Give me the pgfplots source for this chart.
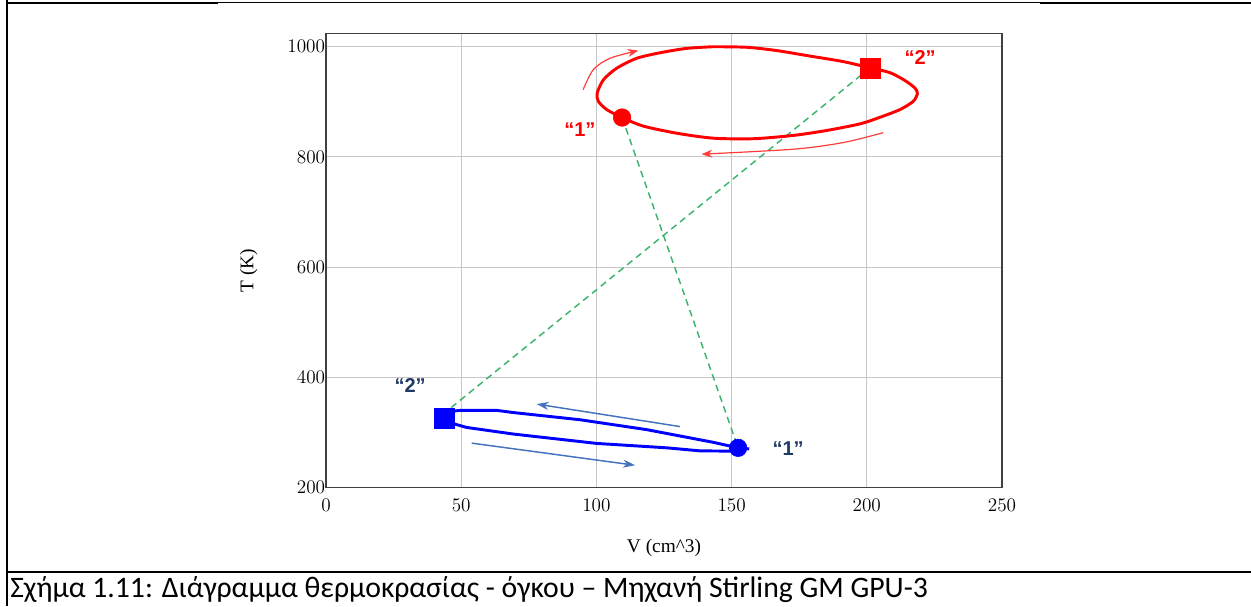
\documentclass[border=0pt]{standalone}
\usepackage{fontspec}
\setmainfont{Liberation Serif}
\newfontfamily\capfont{Carlito}
\newfontfamily\lblfont{Liberation Sans}
\usepackage{pgfplots}
\pgfplotsset{compat=1.18}
\usetikzlibrary{arrows.meta}

\definecolor{loopred}{RGB}{255,0,0}
\definecolor{loopblue}{RGB}{0,0,255}
\definecolor{linkgreen}{RGB}{60,180,110}
\definecolor{arrowblue}{RGB}{68,114,190}
\definecolor{arrowred}{RGB}{255,60,60}
\definecolor{navylabel}{RGB}{31,56,100}

% one screen pixel
\newcommand{\px}{0.75pt}

\begin{document}
\begin{tikzpicture}
\useasboundingbox (0,0) rectangle (1251*\px,606*\px);

% table-cell frame and caption
\draw[line width=1.2pt] (7*\px,606*\px) -- (7*\px,0);
\draw[line width=1.6pt] (6.4*\px,603*\px) -- (218*\px,603*\px);
\draw[line width=0.8pt] (218*\px,603.4*\px) -- (1040*\px,603.4*\px);
\draw[line width=1.6pt] (1040*\px,603*\px) -- (1251*\px,603*\px);
\draw[line width=1.3pt] (7*\px,34*\px) -- (1251*\px,34*\px);
\node[anchor=base west, inner sep=0pt, font=\capfont\fontsize{22.3}{25}\selectfont]
  at (10*\px,9*\px) {Σχήμα 1.11: Διάγραμμα θερμοκρασίας - όγκου – Μηχανή Stirling GM GPU-3};

\begin{axis}[
  at={(326*\px,118.5*\px)}, anchor=south west,
  scale only axis, width=507pt, height=340.5pt,
  xmin=0, xmax=250, ymin=200, ymax=1024,
  xtick={0,50,...,250}, ytick={200,400,...,1000},
  /pgf/number format/1000 sep={},
  grid=major,
  grid style={draw=black!22, line width=0.8pt},
  axis line style={draw=black!75, line width=1.1pt},
  major tick length=0pt,
  tick label style={font=\fontsize{14.5}{16}\selectfont},
  yticklabel style={inner sep=0.5pt},
  xticklabel style={yshift=-5pt},
  xlabel={V (cm\textasciicircum 3)},
  ylabel={T (K)},
  label style={font=\fontsize{14.5}{16}\selectfont},
  xlabel style={at={(rel axis cs:0.5,0)}, anchor=center, yshift=-45.5pt},
  ylabel style={at={(rel axis cs:0,0.478)}, anchor=center, yshift=58pt},
  clip=false,
]

% links between the two states
\addplot[linkgreen, line width=1.1pt, dash pattern=on 5pt off 3.5pt]
  coordinates {(201.2,961.6) (44.5,338)};
\addplot[linkgreen, line width=1.1pt, dash pattern=on 5pt off 3.5pt]
  coordinates {(109.5,871.5) (152.4,272)};

% expansion space loop
\addplot[loopred, line width=2.2pt, smooth, tension=0.45, line join=round] coordinates {
  (143.2,1000) (155.6,999) (166.7,993) (179,983) (191.3,973) (201.2,961.6)
  (208.5,953) (214,939) (217.8,925) (218.7,915) (217.2,901) (212.3,886)
  (204.9,872) (197.5,860) (185.2,848) (172.8,839) (158,833) (143.2,834)
  (129.7,843) (117.3,856) (109.5,871.5) (103.8,886) (100.7,901) (100.3,916)
  (102.6,940) (107.5,961) (114.9,979) (123.5,989) (133.4,997) (143.2,1000)
};

% compression space loop
\addplot[loopblue, line width=2.2pt, line join=round] coordinates {
  (156.5,270) (152.4,272) (143.2,282) (118.6,305) (93.9,323) (69.3,336)
  (63.1,340) (50,340) (45,338) (44,325) (47.7,315) (52,309) (69.3,297)
  (100.1,280) (126,272) (138.3,266.5) (149.4,266) (152.4,272)
};

% state points
\addplot[only marks, mark=square*, mark size=7.5pt, color=loopred] coordinates {(201.2,961.6)};
\addplot[only marks, mark=*, mark size=6.6pt, color=loopred] coordinates {(109.5,871.5)};
\addplot[only marks, mark=square*, mark size=7.5pt, color=loopblue] coordinates {(43.6,325.5)};
\addplot[only marks, mark=*, mark size=6.6pt, color=loopblue] coordinates {(152.4,272)};

% direction arrows
\addplot[arrowred, line width=0.9pt, smooth, -{Stealth[length=8pt,width=6pt]}]
  coordinates {(95.1,922) (98.8,958) (105,979) (115.5,993)};
\addplot[arrowred, line width=0.9pt, smooth, -{Stealth[length=8pt,width=6pt]}]
  coordinates {(206.1,844) (191.2,826) (172.8,814) (138.9,805)};
\addplot[arrowblue, line width=1.1pt, -{Stealth[length=9pt,width=6pt]}]
  coordinates {(130.9,310.6) (77.9,351.4)};
\addplot[arrowblue, line width=1.1pt, -{Stealth[length=9pt,width=6pt]}]
  coordinates {(53.9,280.5) (114.3,240.4)};

% state labels
\node[font=\lblfont\bfseries\fontsize{15}{17}\selectfont, text=loopred] at (axis cs:219.7,980) {“2”};
\node[font=\lblfont\bfseries\fontsize{15}{17}\selectfont, text=loopred] at (axis cs:93.9,850) {“1”};
\node[font=\lblfont\bfseries\fontsize{15}{17}\selectfont, text=navylabel] at (axis cs:31.1,385) {“2”};
\node[font=\lblfont\bfseries\fontsize{15}{17}\selectfont, text=navylabel] at (axis cs:170.9,271) {“1”};
\end{axis}
\end{tikzpicture}
\end{document}
